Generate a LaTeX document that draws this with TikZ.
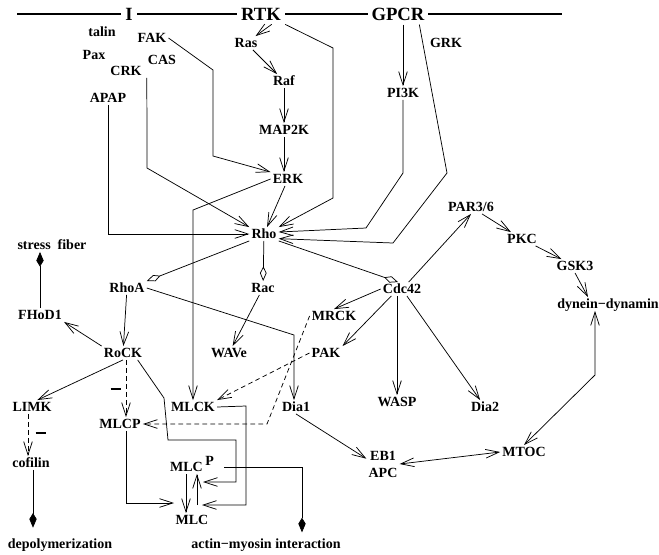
\documentclass[tikz,border=0pt]{standalone}
\usepackage{fontspec}
\setmainfont{Liberation Serif}
\usepackage{tikz}
\usetikzlibrary{arrows.meta,calc}
\tikzset{
  prot/.style={font=\bfseries\fontsize{10.5}{12.75}\selectfont,inner sep=1.5pt,
    text height=7pt,text depth=0pt,align=center},
  rcpt/.style={font=\bfseries\fontsize{14}{16}\selectfont,fill=white,inner sep=3pt},
  inhib/.style={inner sep=0pt},
  arr/.style={-{Straight Barb[length=10pt,width=6.5pt]},line width=0.55pt},
  biarr/.style={{Straight Barb[length=10pt,width=6.5pt]}-{Straight Barb[length=10pt,width=6.5pt]},line width=0.55pt},
  darr/.style={arr,dash pattern=on 3.5pt off 2.5pt},
  odia/.style={-{Kite[open,length=11pt,width=5pt,inset=5pt]},line width=0.55pt},
  fdia/.style={-{Kite[length=11pt,width=5.5pt,inset=4.5pt]},line width=0.55pt},
}
\begin{document}
\begin{tikzpicture}[x=0.75pt,y=-0.75pt]
  \useasboundingbox (0,0) rectangle (659,554);
  % membrane receptors
  \coordinate (barl) at (17,14);
  \coordinate (barr) at (562,14);
  \draw[line width=2.2pt] (barl) -- (barr);
  \node[rcpt] (integ) at (129,14) {I};
  \node[rcpt] (rtk) at (261,14) {RTK};
  \node[rcpt] (gpcr) at (398,14) {GPCR};
  % proteins
  \node[prot] (talin) at (102,32) {talin};
  \node[prot] (pax) at (94,55) {Pax};
  \node[prot] (fak) at (152,38) {FAK};
  \node[prot] (cas) at (162,60) {CAS};
  \node[prot] (crk) at (126,71) {CRK};
  \node[prot] (apap) at (108,98) {APAP};
  \node[prot] (ras) at (246,43) {Ras};
  \node[prot] (raf) at (284,81) {Raf};
  \node[prot] (map2k) at (284,130) {MAP2K};
  \node[prot] (erk) at (288,179) {ERK};
  \node[prot] (grk) at (446,43) {GRK};
  \node[prot] (pi3k) at (403,93) {PI3K};
  \node[prot] (rho) at (264,234) {Rho};
  \node[prot] (stress) at (52,245) {stress\ \ fiber};
  \node[prot] (par) at (471,207) {PAR3/6};
  \node[prot] (pkc) at (522,239) {PKC};
  \node[prot] (gsk) at (575,266) {GSK3};
  \node[prot] (dyn) at (608,304) {dynein−dynamin};
  \node[prot] (rhoa) at (127,288) {RhoA};
  \node[prot] (rac) at (263,288) {Rac};
  \node[prot] (cdc) at (402,289) {Cdc42};
  \node[prot] (fhod) at (40,315) {FHoD1};
  \node[prot] (mrck) at (334,316) {MRCK};
  \node[prot] (rock) at (123,353) {RoCK};
  \node[prot] (wave) at (229,353) {WAVe};
  \node[prot] (pak) at (326,353) {PAK};
  \node[prot] (wasp) at (397,402) {WASP};
  \node[prot] (diatwo) at (485,407) {Dia2};
  \node[prot] (limk) at (32,407) {LIMK};
  \node[prot] (mlck) at (193,407) {MLCK};
  \node[prot] (diaone) at (296,407) {Dia1};
  \node[prot] (mlcp) at (120,424) {MLCP};
  \node[prot] (cofilin) at (31,463) {cofilin};
  \node[prot] (mlcphos) at (192,467) {MLC\kern2pt\raisebox{5pt}{P}};
  \node[prot] (mlc) at (192,520) {MLC};
  \node[prot,text height={},text depth={}] (eb) at (383,464) {EB1\\APC};
  \node[prot] (mtoc) at (524,452) {MTOC};
  \node[prot] (depol) at (60,544) {depolymerization};
  \node[prot] (actmyo) at (266,544) {actin−myosin interaction};
  \node[inhib] (inhrock) at (116,389) {\rule{8pt}{2.2pt}};
  \node[inhib] (inhlimk) at (41,433) {\rule{8pt}{2.2pt}};
  % MAPK cascade
  \draw[arr] ([xshift=8pt]rtk.south) -- (ras);
  \draw[arr] (ras) -- (raf);
  \draw[arr] (raf) -- (map2k);
  \draw[arr] (map2k) -- (erk.north -| map2k);
  \draw[arr] (erk) -- (rho);
  \draw[arr] (erk.west) -- (193,210) -- (mlck.north);
  % inputs to Rho
  \draw[arr] (fak.east) -- (213,70) -- (213,156) -- (erk.north west);
  \draw[arr] ($(crk.south east)+(3,0)$) -- (147,168) -- (rho.north west);
  \draw[arr] (apap.south) |- (rho.west);
  \draw[arr] (rtk.south east) -- (333,48) -- (333,198) -- (rho.north east);
  \draw[arr] (pi3k |- gpcr.south) -- (pi3k);
  \draw[arr] (pi3k) -- (403,173) -- (366,228) -- ([yshift=1.5pt]rho.east);
  \draw[arr] ([xshift=16pt]gpcr.south) -- (447,173) -- (393,243) -- ([yshift=-3.5pt]rho.east);
  % Rho family
  \draw[odia] (rho.south west) -- (rhoa.north east);
  \draw[odia] (rho) -- (rac);
  \draw[odia] (rho.south east) -- ([xshift=-3pt]cdc.north);
  % polarity
  \draw[arr] ([xshift=5pt]cdc.north) -- (par.south);
  \draw[arr] (par) -- (pkc);
  \draw[arr] (pkc) -- (gsk);
  \draw[arr] (gsk.south) -- ([xshift=-15pt]dyn.north);
  \draw[biarr] (mtoc.north) -- (595,375) -- (595,375 |- dyn.south);
  \draw[biarr] (eb.east) -- (mtoc.west);
  \draw[arr] (diaone.south) -- ([yshift=4pt]eb.west);
  % Cdc42 and Rac
  \draw[arr] (cdc.west) -- (mrck.north);
  \draw[arr] ([xshift=-8pt]cdc.south) -- (pak.north east);
  \draw[arr] (cdc.south -| wasp.north) -- (wasp.north);
  \draw[arr] (cdc) -- (diatwo);
  \draw[arr] (rac) -- (wave);
  % RhoA branch
  \draw[arr] (rhoa.east) -- (294,335) -- (294,335 |- diaone.north);
  \draw[arr] (rhoa) -- (rock);
  \draw[arr] (rock.north west) -- (fhod.south east);
  \draw[fdia] (fhod.north) -- (fhod.north |- stress.south);
  \draw[arr] (rock.south) -- ([xshift=4pt]limk.north);
  \draw[darr] ($(rock.south)+(3,0)$) -- ($(mlcp.north)+(6,0)$);
  \draw[darr] ($(limk.south)+(-4,0)$) -- ($(cofilin.north)+(-3,0)$);
  \draw[fdia,shorten >=7pt] ($(cofilin.south)+(2,0)$) -- ($(depol.north)+(-27,0)$);
  \draw[darr] (mrck.west) -- (267,424) -- (mlcp.east);
  \draw[darr] (pak.west) -- (mlck.north east);
  % myosin light chain
  \draw[arr] ([xshift=-5pt]rock.south east) -- (164,398) -- (168,440) -- (236,440) -- (236,482) -- ($(mlcphos)+(11,15)$);
  \draw[arr] (mlck.east) -- (246,406) -- (246,505) -- ($(mlc)+(10,-15)$);
  \draw[arr] ($(mlcp.south)+(6,0)$) |- ($(mlc)+(-18,-17)$);
  \draw[arr] ($(mlcphos.south)+(-6,0)$) -- ($(mlc.north)+(-6,0)$);
  \draw[arr] ($(mlc)+(5,-15)$) -- ($(mlcphos.south)+(5,0)$);
  \draw[fdia,shorten >=3.5pt] ([xshift=6pt]mlcphos.east) -| ($(actmyo.north)+(36,0)$);
\end{tikzpicture}
\end{document}
